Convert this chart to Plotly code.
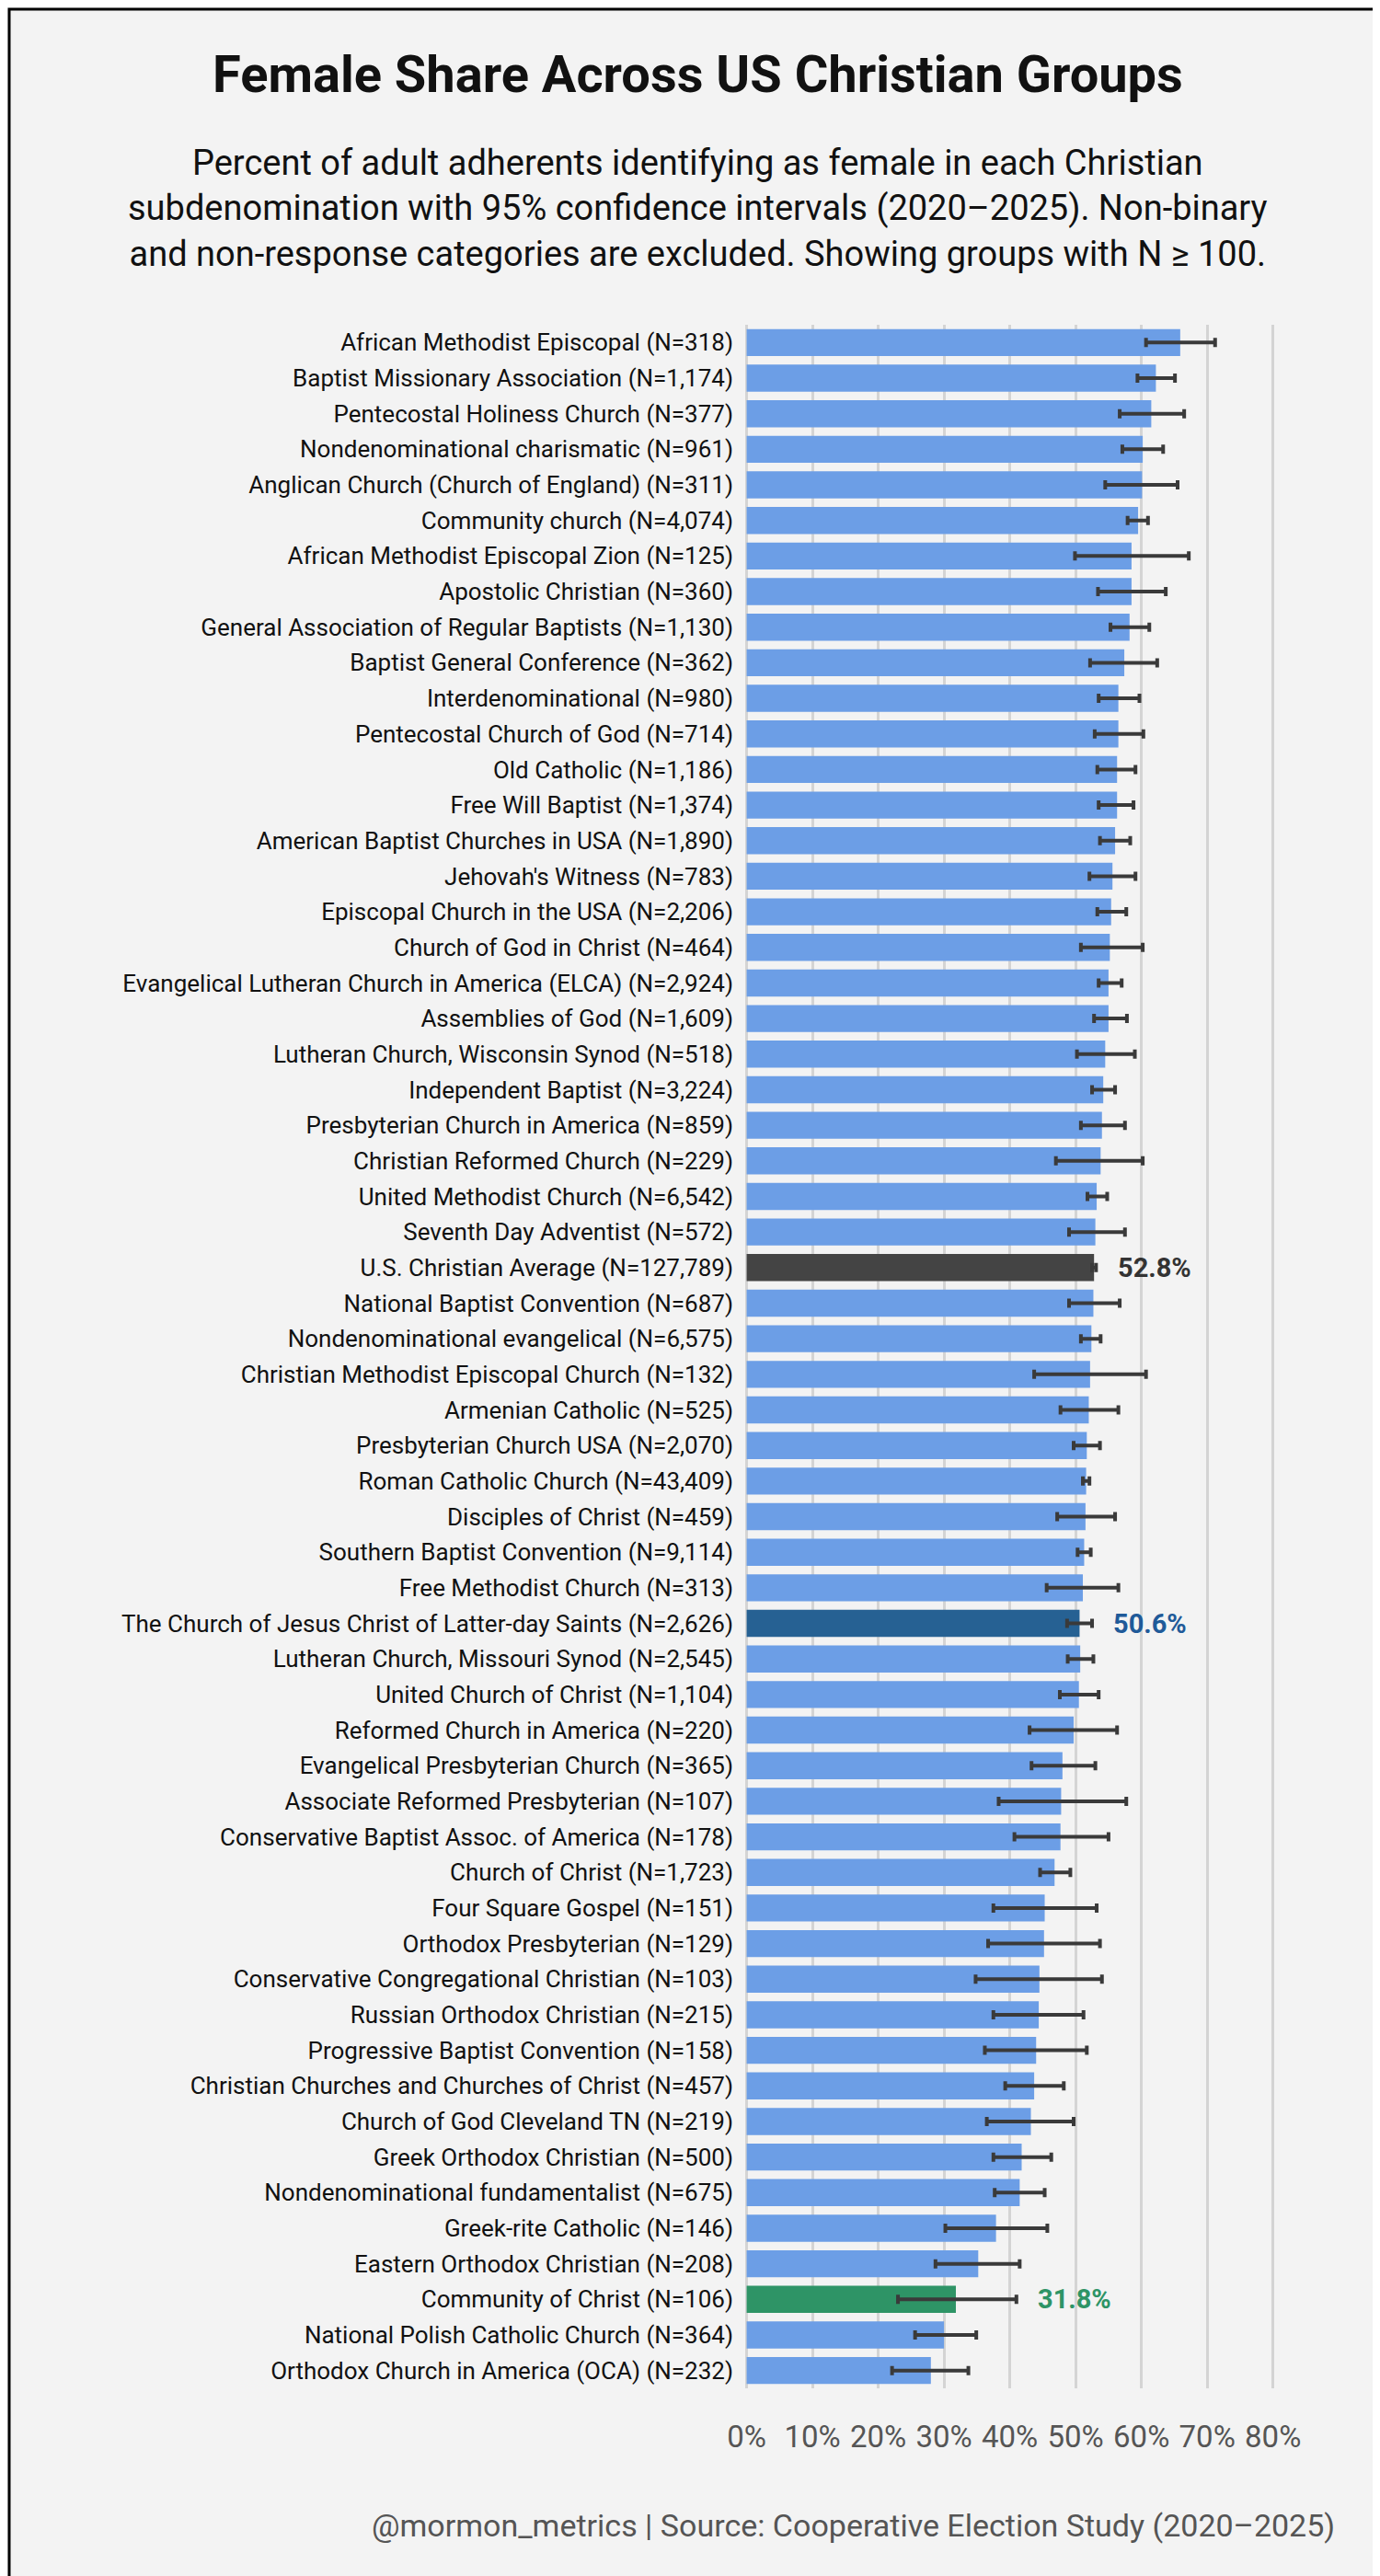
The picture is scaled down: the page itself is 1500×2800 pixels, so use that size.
import plotly.graph_objects as go

groups = [
    "African Methodist Episcopal (N=318)", "Baptist Missionary Association (N=1,174)",
    "Pentecostal Holiness Church (N=377)", "Nondenominational charismatic (N=961)",
    "Anglican Church (Church of England) (N=311)", "Community church (N=4,074)",
    "African Methodist Episcopal Zion (N=125)", "Apostolic Christian (N=360)",
    "General Association of Regular Baptists (N=1,130)", "Baptist General Conference (N=362)",
    "Interdenominational (N=980)", "Pentecostal Church of God (N=714)",
    "Old Catholic (N=1,186)", "Free Will Baptist (N=1,374)",
    "American Baptist Churches in USA (N=1,890)", "Jehovah's Witness (N=783)",
    "Episcopal Church in the USA (N=2,206)", "Church of God in Christ (N=464)",
    "Evangelical Lutheran Church in America (ELCA) (N=2,924)", "Assemblies of God (N=1,609)",
    "Lutheran Church, Wisconsin Synod (N=518)", "Independent Baptist (N=3,224)",
    "Presbyterian Church in America (N=859)", "Christian Reformed Church (N=229)",
    "United Methodist Church (N=6,542)", "Seventh Day Adventist (N=572)",
    "U.S. Christian Average (N=127,789)", "National Baptist Convention (N=687)",
    "Nondenominational evangelical (N=6,575)", "Christian Methodist Episcopal Church (N=132)",
    "Armenian Catholic (N=525)", "Presbyterian Church USA (N=2,070)",
    "Roman Catholic Church (N=43,409)", "Disciples of Christ (N=459)",
    "Southern Baptist Convention (N=9,114)", "Free Methodist Church (N=313)",
    "The Church of Jesus Christ of Latter-day Saints (N=2,626)", "Lutheran Church, Missouri Synod (N=2,545)",
    "United Church of Christ (N=1,104)", "Reformed Church in America (N=220)",
    "Evangelical Presbyterian Church (N=365)", "Associate Reformed Presbyterian (N=107)",
    "Conservative Baptist Assoc. of America (N=178)", "Church of Christ (N=1,723)",
    "Four Square Gospel (N=151)", "Orthodox Presbyterian (N=129)",
    "Conservative Congregational Christian (N=103)", "Russian Orthodox Christian (N=215)",
    "Progressive Baptist Convention (N=158)", "Christian Churches and Churches of Christ (N=457)",
    "Church of God Cleveland TN (N=219)", "Greek Orthodox Christian (N=500)",
    "Nondenominational fundamentalist (N=675)", "Greek-rite Catholic (N=146)",
    "Eastern Orthodox Christian (N=208)", "Community of Christ (N=106)",
    "National Polish Catholic Church (N=364)", "Orthodox Church in America (OCA) (N=232)",
]
share = [65.9, 62.2, 61.5, 60.2, 60.1, 59.5, 58.5, 58.5, 58.2, 57.4, 56.5, 56.5, 56.3, 56.3,
         56.0, 55.6, 55.4, 55.2, 55.0, 55.0, 54.5, 54.2, 54.0, 53.8, 53.2, 53.0, 52.8, 52.7,
         52.4, 52.2, 52.0, 51.7, 51.6, 51.5, 51.3, 51.1, 50.6, 50.7, 50.5, 49.7, 48.0, 47.8,
         47.7, 46.8, 45.3, 45.2, 44.5, 44.4, 44.0, 43.7, 43.2, 41.8, 41.5, 37.9, 35.2, 31.8,
         30.0, 28.0]
ci_low = [60.7, 59.4, 56.7, 57.1, 54.5, 57.9, 49.9, 53.4, 55.3, 52.2, 53.5, 52.9, 53.3, 53.5,
          53.7, 52.1, 53.3, 50.8, 53.5, 52.8, 50.2, 52.5, 50.8, 47.0, 51.8, 49.0, 52.5, 49.0,
          50.8, 43.7, 47.7, 49.7, 51.1, 47.2, 50.3, 45.6, 48.7, 48.8, 47.6, 43.0, 43.3, 38.3,
          40.7, 44.6, 37.5, 36.7, 34.8, 37.5, 36.2, 39.3, 36.5, 37.5, 37.7, 30.2, 28.7, 23.0,
          25.6, 22.1]
ci_high = [71.2, 65.1, 66.5, 63.3, 65.5, 61.0, 67.2, 63.7, 61.2, 62.4, 59.7, 60.3, 59.1, 58.8,
           58.3, 59.1, 57.7, 60.2, 57.0, 57.8, 59.0, 56.0, 57.5, 60.2, 54.8, 57.5, 53.1, 56.7,
           53.8, 60.7, 56.5, 53.7, 52.1, 56.0, 52.3, 56.5, 52.5, 52.7, 53.5, 56.3, 53.0, 57.7,
           55.0, 49.2, 53.2, 53.7, 54.0, 51.2, 51.7, 48.2, 49.7, 46.3, 45.3, 45.7, 41.5, 41.0,
           34.9, 33.7]
tick_vals = [0, 10, 20, 30, 40, 50, 60, 70, 80]
tick_text = ["0%", "10%", "20%", "30%", "40%", "50%", "60%", "70%", "80%"]

highlights = {
    "U.S. Christian Average (N=127,789)": ("#444444", "#333333"),
    "The Church of Jesus Christ of Latter-day Saints (N=2,626)": ("#266193", "#1F5A99"),
    "Community of Christ (N=106)": ("#2E9466", "#2E9466"),
}

colors = [highlights[g][0] if g in highlights else "#6C9EE6" for g in groups]

W, H = 1500, 2800
ML, MR, MT, MB = 800, 110, 345, 212
pw = W - ML - MR
ph = H - MT - MB
FONT = "Liberation Sans Narrow, Roboto, sans-serif"

fig = go.Figure()
fig.add_trace(go.Bar(
    x=share, y=groups, orientation="h",
    marker=dict(color=colors, line=dict(width=0)),
    error_x=dict(type="data", symmetric=False,
                 array=[h - s for h, s in zip(ci_high, share)],
                 arrayminus=[s - l for s, l in zip(share, ci_low)],
                 color="#3A3A3A", thickness=4, width=5),
    hoverinfo="skip",
))

for g, s, h in zip(groups, share, ci_high):
    if g in highlights:
        fig.add_annotation(x=h + 3, y=g, text=f"<b>{s:.1f}%</b>", showarrow=False,
                           xanchor="left", font=dict(size=29, color=highlights[g][1], family=FONT))

mid_x = (W / 2 - ML) / pw
fig.add_annotation(xref="paper", yref="paper", x=mid_x, xanchor="center",
                   y=1 + (MT - 73) / ph, yanchor="middle", showarrow=False,
                   text="<b>Female Share Across US Christian Groups</b>",
                   font=dict(size=56, color="#111111", family=FONT))
fig.add_annotation(xref="paper", yref="paper", x=mid_x, xanchor="center",
                   y=1 + (MT - 218) / ph, yanchor="middle", showarrow=False,
                   text="Percent of adult adherents identifying as female in each Christian<br>"
                        "subdenomination with 95% confidence intervals (2020\u20132025). Non-binary<br>"
                        "and non-response categories are excluded. Showing groups with N \u2265 100.",
                   font=dict(size=38, color="#111111", family=FONT))
fig.add_annotation(xref="paper", yref="paper", x=(1445 - ML) / pw,
                   y=-(2737 - (H - MB)) / ph, xanchor="right", yanchor="middle",
                   showarrow=False,
                   text="@mormon_metrics | Source: Cooperative Election Study (2020\u20132025)",
                   font=dict(size=34, color="#555555", family=FONT))

fig.add_shape(type="rect", xref="paper", yref="paper",
              x0=-(ML - 2) / pw, x1=1 + (MR - 2) / pw,
              y0=-(MB - 2) / ph, y1=1 + (MT - 2) / ph,
              line=dict(color="#000000", width=3), layer="above")

fig.update_layout(
    width=W, height=H,
    margin=dict(l=ML, r=MR, t=MT, b=MB),
    paper_bgcolor="#F3F3F3", plot_bgcolor="#F3F3F3",
    showlegend=False, bargap=0.24,
    font=dict(family=FONT, color="#111111"),
)
fig.update_xaxes(range=[-0.5, 82], tickvals=tick_vals, ticktext=tick_text,
                 showgrid=True, gridcolor="#D4D4D4", gridwidth=3, zeroline=False,
                 tickfont=dict(size=33, color="#555555"), ticklabelstandoff=30,
                 fixedrange=True)
fig.update_yaxes(autorange="reversed", tickfont=dict(size=26, color="#111111"),
                 ticklabelstandoff=10, showgrid=False)

fig.write_html("out.html")
